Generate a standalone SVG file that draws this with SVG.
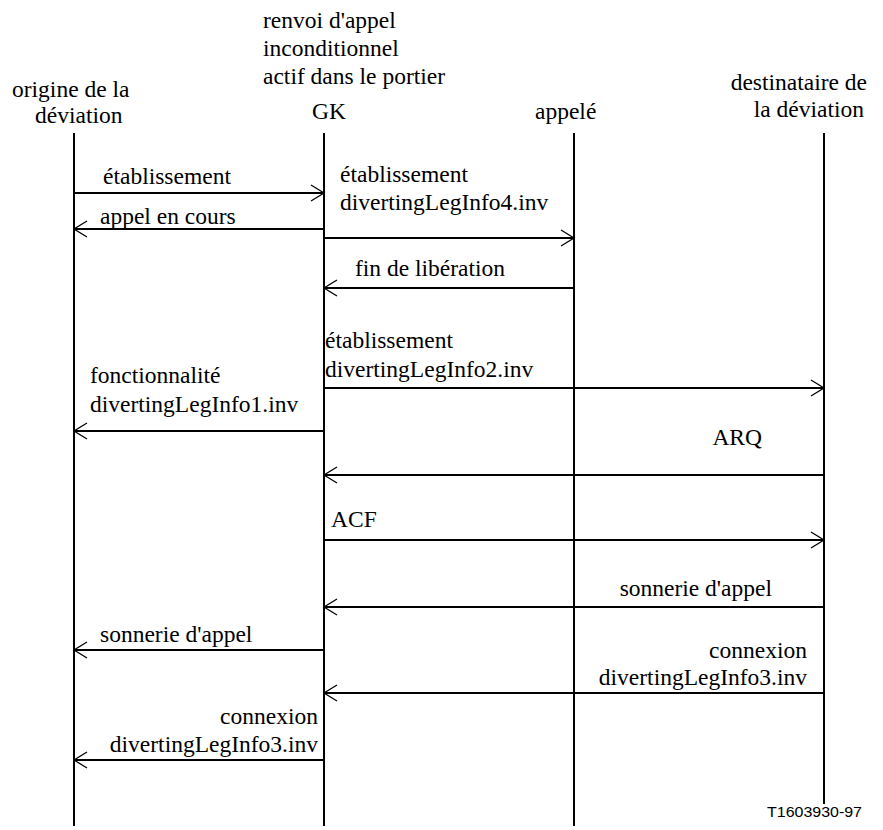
<svg xmlns="http://www.w3.org/2000/svg" width="883" height="830" viewBox="0 0 883 830">
<style>
.t{font-family:'Times New Roman','Liberation Serif',Times,serif;font-size:23.5px;fill:#000}
.e{text-anchor:end}
.life{stroke:#000;stroke-width:2;fill:none}
.msg{stroke:#000;stroke-width:2;fill:none;marker-end:url(#ah)}
.ref{font-family:'Liberation Sans',Arial,sans-serif;font-size:14px;fill:#000}
</style>
<defs>
<marker id="ah" markerUnits="userSpaceOnUse" markerWidth="16" markerHeight="18" refX="14" refY="9" orient="auto">
<path d="M1,1 L14,9 L1,17" fill="none" stroke="#000" stroke-width="1.3"/>
</marker>
</defs>
<rect width="883" height="830" fill="#fff"/>
<g id="origine" class="t">
<text x="12" y="97">origine de la</text>
<text x="35" y="123">déviation</text>
<line class="life" x1="74" y1="133" x2="74" y2="826"/>
</g>
<g id="gk" class="t">
<text x="263" y="28">renvoi d'appel</text>
<text x="263" y="56">inconditionnel</text>
<text x="263" y="84">actif dans le portier</text>
<text x="312" y="119">GK</text>
<line class="life" x1="324" y1="133" x2="324" y2="826"/>
</g>
<g id="appele" class="t">
<text x="535" y="119">appelé</text>
<line class="life" x1="574" y1="133" x2="574" y2="826"/>
</g>
<g id="destinataire" class="t">
<text class="e" x="867" y="90">destinataire de</text>
<text class="e" x="864" y="117">la déviation</text>
<line class="life" x1="824" y1="133" x2="824" y2="804"/>
</g>
<g id="connectors">
<line class="msg" x1="74" y1="193" x2="324" y2="193"/>
<line class="msg" x1="324" y1="229" x2="74" y2="229"/>
<line class="msg" x1="324" y1="238" x2="574" y2="238"/>
<line class="msg" x1="574" y1="288" x2="324" y2="288"/>
<line class="msg" x1="324" y1="388" x2="824" y2="388"/>
<line class="msg" x1="324" y1="431" x2="74" y2="431"/>
<line class="msg" x1="824" y1="475" x2="324" y2="475"/>
<line class="msg" x1="324" y1="540" x2="824" y2="540"/>
<line class="msg" x1="824" y1="607" x2="324" y2="607"/>
<line class="msg" x1="324" y1="650" x2="74" y2="650"/>
<line class="msg" x1="824" y1="693" x2="324" y2="693"/>
<line class="msg" x1="324" y1="760" x2="74" y2="760"/>
</g>
<g id="labels" class="t">
<text x="103" y="184">établissement</text>
<text x="100" y="224">appel en cours</text>
<text x="340" y="182">établissement</text>
<text x="340" y="210">divertingLegInfo4.inv</text>
<text x="355" y="276">fin de libération</text>
<text x="325" y="348">établissement</text>
<text x="325" y="377">divertingLegInfo2.inv</text>
<text x="90" y="383">fonctionnalité</text>
<text x="90" y="412">divertingLegInfo1.inv</text>
<text class="e" x="762" y="445">ARQ</text>
<text x="331" y="527">ACF</text>
<text class="e" x="772" y="596">sonnerie d'appel</text>
<text x="100" y="642">sonnerie d'appel</text>
<text class="e" x="807" y="658">connexion</text>
<text class="e" x="807" y="685">divertingLegInfo3.inv</text>
<text class="e" x="318" y="724">connexion</text>
<text class="e" x="318" y="752">divertingLegInfo3.inv</text>
</g>
<text class="ref" x="767" y="817" textLength="95" lengthAdjust="spacingAndGlyphs">T1603930-97</text>
</svg>
